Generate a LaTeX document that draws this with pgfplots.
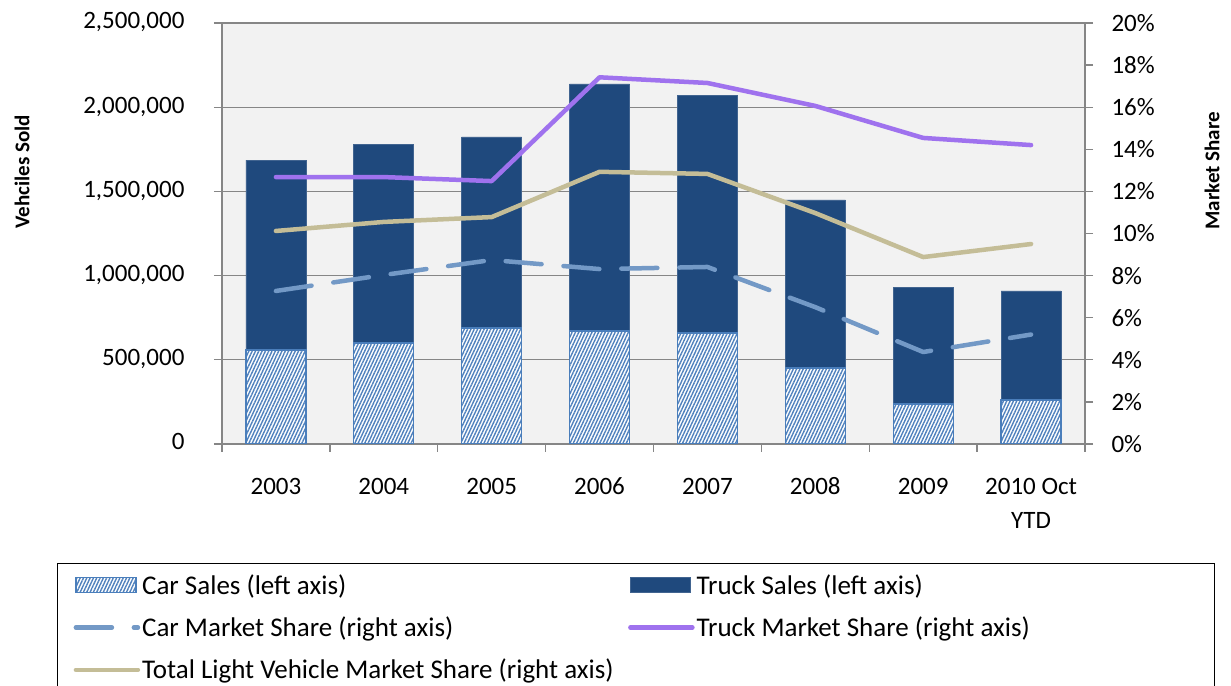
\documentclass[border=0pt]{standalone}
\usepackage{fontspec}
\setmainfont{Carlito}
\usepackage{pgfplots}
\pgfplotsset{compat=1.18}
\usetikzlibrary{patterns.meta}
\definecolor{truck}{HTML}{1F497D}
\definecolor{carb}{HTML}{4A7EBB}
\definecolor{carhatch}{HTML}{4F81BD}
\definecolor{carline}{HTML}{7399C6}
\definecolor{truckline}{HTML}{9F72EE}
\definecolor{totline}{HTML}{C4BD97}
\definecolor{plotbg}{HTML}{F2F2F2}
\definecolor{axgray}{HTML}{868686}
\begin{document}
\begin{tikzpicture}
\pgfplotsset{
  carbar/.style={preaction={fill=white}, pattern={Lines[angle=65,distance=3pt,line width=1.4pt]}, pattern color=carhatch, draw=carb, line width=1.3pt},
  truckbar/.style={fill=truck, draw=truck!85!white, line width=0.8pt},
  rectlegend/.style={legend image code/.code={\draw[##1] (0pt,-7.5pt) rectangle (60pt,7.5pt);}},
}
\begin{axis}[
  name=ax1,
  scale only axis, width=863pt, height=421pt,
  xmin=-0.5, xmax=7.5, ymin=0, ymax=2500000,
  axis background/.style={fill=plotbg},
  axis y line*=left, axis x line*=bottom,
  axis line style={axgray, line width=1.3pt, -},
  xtick={-0.5,0.5,...,7.5}, x tick label as interval,
  xticklabels={2003,2004,2005,2006,2007,2008,2009,{2010 Oct\\YTD}},
  typeset ticklabels with strut,
  xticklabel style={align=center, yshift=-15pt, font=\fontsize{25}{34}\selectfont},
  ytick={0,500000,...,2500000},
  ymajorgrids, grid style={axgray, line width=1.3pt},
  tick align=outside, major tick length=8pt, tick style={axgray, line width=1.3pt},
  scaled y ticks=false,
  yticklabel style={/pgf/number format/fixed, /pgf/number format/1000 sep={,}, /pgf/number format/assume math mode=true, font=\fontsize{25}{30}\selectfont, xshift=-26pt},
  ybar stacked, bar width=60pt,
  ylabel={Vehciles Sold},
  ylabel style={at={(axis description cs:-0.2317,0.646)}, anchor=center, font=\fontsize{21}{25}\selectfont\bfseries},
]
\addplot[carbar] coordinates {(0,558000) (1,600000) (2,689000) (3,671000) (4,659000) (5,451000) (6,238000) (7,261000)};
\addplot[truckbar] coordinates {(0,1128000) (1,1181000) (2,1134000) (3,1467000) (4,1413000) (5,998000) (6,694000) (7,648000)};
\end{axis}
\begin{axis}[
  scale only axis, width=863pt, height=421pt,
  xmin=-0.5, xmax=7.5, ymin=0, ymax=20,
  axis y line*=right, axis x line=none,
  axis line style={axgray, line width=1.3pt, -},
  ytick={0,2,...,20},
  yticklabel={\pgfmathprintnumber{\tick}\%},
  yticklabel style={/pgf/number format/assume math mode=true, font=\fontsize{25}{30}\selectfont, xshift=15pt},
  tick align=outside, major tick length=8pt, tick style={axgray, line width=1.3pt},
  ylabel={Market Share},
  ylabel style={at={(axis description cs:1.1472,0.649)}, anchor=center, font=\fontsize{21}{25}\selectfont\bfseries},
  legend image code/.code={\draw[#1, line cap=round] (0pt,0pt) -- (62pt,0pt);},
  legend columns=2,
  legend cell align=left,
  legend style={at={(axis description cs:-0.1912,-0.2827)}, anchor=north west,
    draw=black, line width=1.3pt, font=\fontsize{27}{31}\selectfont,
    inner xsep=16pt, inner ysep=9pt, row sep=17pt},
]
\addlegendimage{rectlegend, carbar}
\addlegendentry{\makebox[484pt][l]{Car Sales (left axis)}}
\addlegendimage{rectlegend, truckbar}
\addlegendentry{\makebox[500pt][l]{Truck Sales (left axis)}}
\addplot[carline, line width=4.5pt, line cap=round, line join=round, dash pattern=on 36pt off 22pt] coordinates {(0,7.27) (1,8.03) (2,8.74) (3,8.31) (4,8.41) (5,6.5) (6,4.37) (7,5.2)};
\addlegendentry{\makebox[484pt][l]{Car Market Share (right axis)}}
\addplot[truckline, line width=4.5pt, line cap=round, line join=round] coordinates {(0,12.68) (1,12.68) (2,12.49) (3,17.42) (4,17.15) (5,16.06) (6,14.54) (7,14.2)};
\addlegendentry{\makebox[500pt][l]{Truck Market Share (right axis)}}
\addplot[totline, line width=4.5pt, line cap=round, line join=round] coordinates {(0,10.12) (1,10.55) (2,10.78) (3,12.93) (4,12.83) (5,10.97) (6,8.88) (7,9.5)};
\addlegendentry{\makebox[484pt][l]{Total Light Vehicle Market Share (right axis)}}
\end{axis}
\pgfresetboundingbox
\path ([shift={(-222pt,-242pt)}]ax1.south west) rectangle ([shift={(146pt,23pt)}]ax1.north east);
\end{tikzpicture}
\end{document}
